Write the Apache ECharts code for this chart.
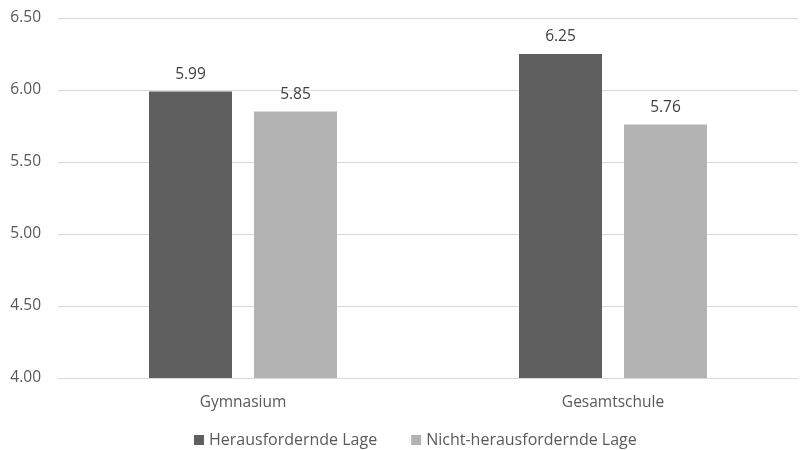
<!DOCTYPE html>
<html><head><meta charset="utf-8">
<script src="https://cdn.jsdelivr.net/npm/echarts@6/dist/echarts.min.js"></script>
<style>html,body{margin:0;padding:0;background:#fff}#c{width:809px;height:450px}</style>
</head><body><div id="c"></div>
<script>
const categories = ['Gymnasium', 'Gesamtschule'];
const seriesNames = ['Herausfordernde Lage', 'Nicht-herausfordernde Lage'];
const herausfordernd = [5.99, 6.25];
const nichtHerausfordernd = [5.85, 5.76];
const yTicks = { min: 4.0, max: 6.5, interval: 0.5 };

const font = 'Open Sans';
const chart = echarts.init(document.getElementById('c'));
const labelCfg = { show: true, position: 'top', distance: 9, color: '#404040', fontFamily: font, fontSize: 15.5, formatter: p => p.value.toFixed(2) };
chart.setOption({
  animation: false,
  grid: { left: 58, right: 11, top: 18, bottom: 72, containLabel: false },
  legend: {
    top: 432, left: 194, padding: 0, itemWidth: 10, itemHeight: 10, itemGap: 34, icon: 'rect',
    textStyle: { color: '#595959', fontFamily: font, fontSize: 16 },
    data: seriesNames
  },
  xAxis: {
    type: 'category', data: categories,
    axisLine: { show: true, lineStyle: { color: '#d9d9d9' } }, axisTick: { show: false },
    axisLabel: { color: '#595959', fontFamily: font, fontSize: 15.5, margin: 17 }
  },
  yAxis: {
    type: 'value', min: yTicks.min, max: yTicks.max, interval: yTicks.interval,
    axisLine: { show: false }, axisTick: { show: false },
    splitLine: { lineStyle: { color: '#d9d9d9' } },
    axisLabel: { color: '#595959', fontFamily: font, fontSize: 15.5, margin: 17, formatter: v => v.toFixed(2) }
  },
  series: [
    { name: seriesNames[0], type: 'bar', data: herausfordernd, barWidth: 83, barGap: '26.5%', itemStyle: { color: '#5f5f5f' }, label: labelCfg },
    { name: seriesNames[1], type: 'bar', data: nichtHerausfordernd, barWidth: 83, itemStyle: { color: '#b3b3b3' }, label: labelCfg }
  ]
});
</script></body></html>
